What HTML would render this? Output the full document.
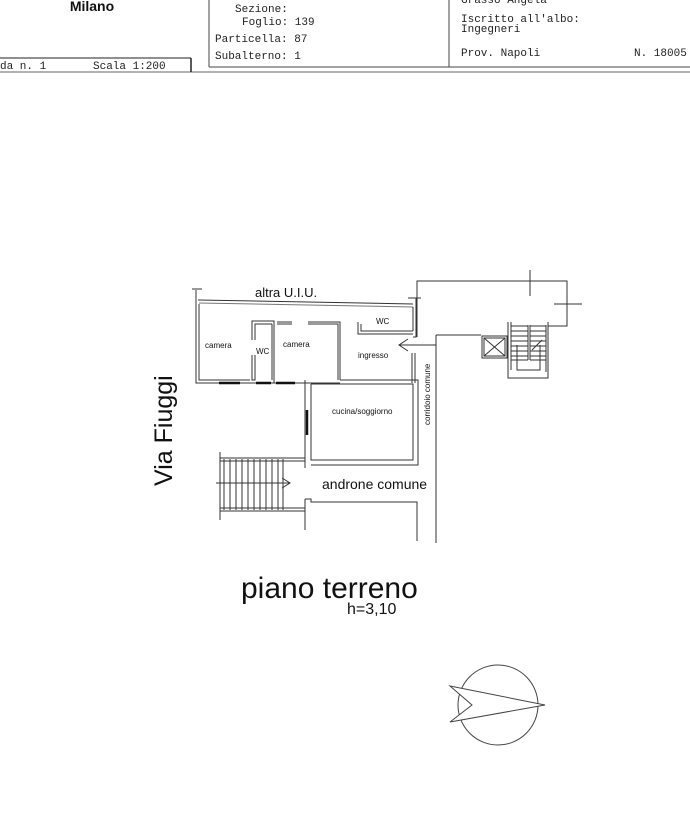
<!DOCTYPE html>
<html><head><meta charset="utf-8"><style>
html,body{margin:0;padding:0;background:#fff;}
svg{display:block;}
.m{font-family:"Liberation Mono",monospace;font-size:11px;fill:#222;}
.s{font-family:"Liberation Sans",sans-serif;fill:#111;}
</style></head><body>
<svg width="690" height="821" viewBox="0 0 690 821" xmlns="http://www.w3.org/2000/svg">
<g fill="none" stroke="#444" stroke-width="1">
<line x1="0" y1="72" x2="690" y2="72" stroke="#999" stroke-width="1.5"/>
<line x1="0" y1="58" x2="191" y2="58" stroke="#222"/>
<line x1="191" y1="58" x2="191" y2="72" stroke="#222" stroke-width="1.5"/>
<line x1="209" y1="0" x2="209" y2="67"/>
<line x1="209" y1="67" x2="690" y2="67"/>
<line x1="449" y1="0" x2="449" y2="67"/>
</g>
<text class="s" x="92" y="11" font-size="14" font-weight="bold" text-anchor="middle">Milano</text>
<text class="m" x="0" y="69">da n. 1</text>
<text class="m" x="93" y="69">Scala 1:200</text>
<text class="m" x="235" y="12">Sezione:</text>
<text class="m" x="242" y="25">Foglio: 139</text>
<text class="m" x="215" y="42">Particella: 87</text>
<text class="m" x="215" y="59">Subalterno: 1</text>
<text class="m" x="461" y="3">Grasso Angela</text>
<text class="m" x="461" y="22">Iscritto all'albo:</text>
<text class="m" x="461" y="32">Ingegneri</text>
<text class="m" x="461" y="56">Prov. Napoli</text>
<text class="m" x="634" y="56">N. 18005</text>

<g fill="none" stroke="#333" stroke-width="1">
<polyline points="196,290 196,383 340,383"/>
<polyline points="199,304 199,380 250,380"/>
<line x1="192" y1="289" x2="202" y2="289"/>
<line x1="198" y1="300" x2="413" y2="304"/>
<line x1="199" y1="303" x2="413" y2="307" stroke="#777"/>
<polyline points="252,340 252,321 274,321 274,383"/>
<polyline points="255,340 255,324 272,324"/>
<polyline points="252,355 252,380 255,380 255,355"/>
<line x1="272" y1="324" x2="272" y2="380"/>
<polyline points="277,322 292,322"/><polyline points="277,324 292,324"/>
<polyline points="308,322 340,322 340,380"/><polyline points="308,324 338,324 338,380"/>
<polyline points="358,322 358,334 413,334"/><polyline points="361,324 361,331 413,331"/>
<polyline points="413,307 413,331"/><polyline points="416,298 416,337 413,337"/>
<line x1="408" y1="298" x2="421" y2="298"/>
<polyline points="412,353 412,383"/><polyline points="415,353 415,383"/>
<polyline points="340,380 418,380 418,465 311,465"/>
<polyline points="311,384 413,384 413,460 311,460 311,384"/>
<polyline points="305,380 305,468"/>
<line x1="336" y1="383" x2="340" y2="383"/>
<polyline points="305,499 305,530"/><polyline points="305,499 311,499 311,502 417,502 417,541"/>
<line x1="436" y1="335" x2="436" y2="543"/>
<line x1="436" y1="335" x2="481" y2="335"/>
<line x1="399" y1="345" x2="436" y2="345"/>
<polyline points="408,339 399,345 408,351"/>
<polyline points="417,337 417,281 567,281 567,326 548,326"/>
<line x1="530" y1="270" x2="530" y2="296"/>
<line x1="554" y1="304" x2="582" y2="304"/>
<rect x="482" y="336" width="25" height="22"/>
<rect x="484" y="338" width="21" height="18"/>
<line x1="484" y1="338" x2="505" y2="356"/><line x1="505" y1="338" x2="484" y2="356"/>
<polyline points="508,322 508,378 548,378 548,322"/>
<polyline points="511,322 511,370" />
<line x1="528" y1="325" x2="528" y2="360"/><line x1="530" y1="325" x2="530" y2="360"/>
<polyline points="517,345 517,370 540,370 540,345"/>
<line x1="546" y1="325" x2="546" y2="372"/>
<path d="M511 326H528M511 331H528M511 336H528M511 341H528M511 346H528M511 351H528M511 356H528M511 360H528M530 326H546M530 331H546M530 336H546M530 341H546M530 346H546M530 351H546M530 356H546M530 360H546"/>
<line x1="532" y1="350" x2="542" y2="340"/>
<line x1="220" y1="452" x2="220" y2="520"/>
<line x1="220" y1="458" x2="305" y2="458"/><line x1="220" y1="461" x2="305" y2="461"/>
<line x1="220" y1="508" x2="305" y2="508"/><line x1="220" y1="511" x2="305" y2="511"/>
<path d="M224 459V510M230 459V510M236 459V510M242 459V510M248 459V510M254 459V510M260 459V510M266 459V510M272 459V510M278 459V510M283 459V510"/>
<line x1="216" y1="483" x2="290" y2="483"/>
<polyline points="282,478 290,483 282,488"/>
</g>
<g stroke="#111" stroke-width="2.5">
<line x1="219" y1="383" x2="240" y2="383"/><line x1="256" y1="383" x2="271" y2="383"/><line x1="276" y1="383" x2="295" y2="383"/>
<line x1="307" y1="410" x2="307" y2="435"/>
</g>
<text class="s" x="255" y="297" font-size="13">altra U.I.U.</text>
<text class="s" x="376" y="324" font-size="8">WC</text>
<text class="s" x="205" y="348" font-size="8">camera</text>
<text class="s" x="256" y="354" font-size="8">WC</text>
<text class="s" x="283" y="347" font-size="8">camera</text>
<text class="s" x="358" y="358" font-size="8">ingresso</text>
<text class="s" x="332" y="414" font-size="8">cucina/soggiorno</text>
<text class="s" font-size="8" transform="translate(430,425) rotate(-90)">corridoio comune</text>
<text class="s" x="322" y="489" font-size="14">androne comune</text>
<text class="s" font-size="25" transform="translate(172,486) rotate(-90)">Via Fiuggi</text>
<text class="s" x="241" y="598" font-size="30">piano terreno</text>
<text class="s" x="347" y="614" font-size="16">h=3,10</text>
<g fill="none" stroke="#444">
<circle cx="498" cy="705" r="40"/>
<polygon points="450,686 545,705 450,722 472,705" fill="#fff"/>
</g>
</svg>
</body></html>
